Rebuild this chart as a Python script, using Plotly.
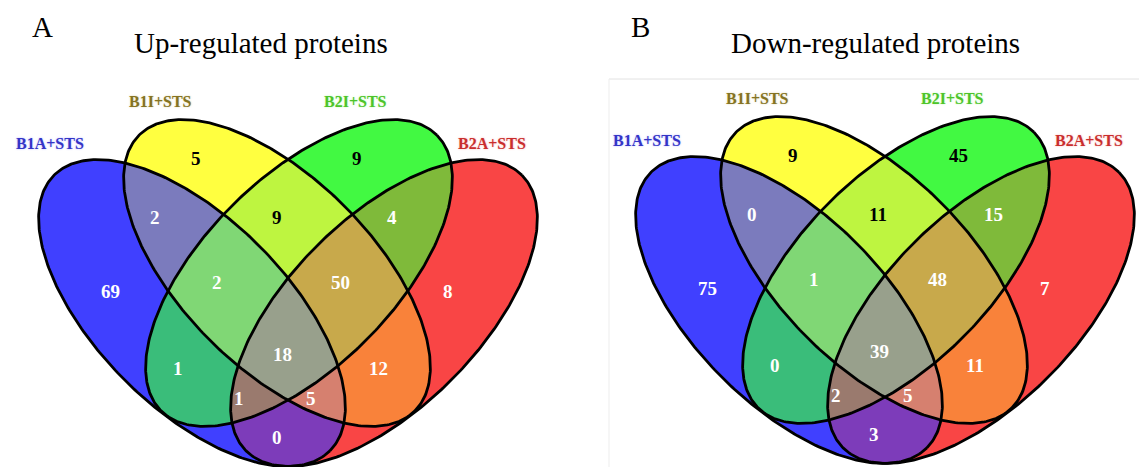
import numpy as np
import plotly.graph_objects as go

# ---- data -------------------------------------------------------------
set_names = ["B1A+STS", "B1I+STS", "B2I+STS", "B2A+STS"]
set_label_colors = ["#3434C6", "#857322", "#4DC42A", "#C92E2E"]
set_label_glow = ["rgba(90,90,255,0.45)", "rgba(170,150,60,0.45)",
                  "rgba(110,230,80,0.45)", "rgba(240,90,90,0.45)"]

# membership keys in the order (B1A, B1I, B2I, B2A)
region_keys = ["1000", "0100", "0010", "0001",
               "1100", "0110", "0011", "1010", "0101", "1001",
               "1110", "0111", "1011", "1101", "1111"]
up_counts = [69, 5, 9, 8, 2, 9, 4, 1, 12, 0, 2, 50, 1, 5, 18]
down_counts = [75, 9, 45, 7, 0, 11, 15, 0, 11, 3, 1, 48, 2, 5, 39]

panel_titles = ["Up-regulated proteins", "Down-regulated proteins"]
panel_letters = ["A", "B"]

# ---- styling ----------------------------------------------------------
region_colors = {
    "1000": "#4040FF", "0100": "#FFFF40", "0010": "#42F942", "0001": "#F94545",
    "1100": "#7B7BBD", "0110": "#BEF540", "0011": "#7FBA3A", "1010": "#3ABD7A",
    "0101": "#F9823A", "1001": "#7D3CBA", "1110": "#80D775", "0111": "#C8A94B",
    "1011": "#9A7A6E", "1101": "#D6806F", "1111": "#98A08C",
}
dark_text = {"0100", "0010", "0110"}

SERIF = "Liberation Serif, Times New Roman, serif"
W, H = 1139, 467

# ellipse geometry relative to each panel's centre (pixel units, y down)
SEMI_MAJOR, SEMI_MINOR = 195.0, 95.0
ellipse_layout = [(-96, 40, 45), (-11, 0, 45), (11, 0, -45), (96, 40, -45)]
panel_origins = [(288, 273), (885, 270)]

# text placement relative to panel centre
label_offsets = [(-238, -130), (-128, -172), (67, -172), (204, -130)]
count_offsets = {
    "1000": (-188.5, 18.5), "0100": (-98.5, -115), "0010": (62.5, -115),
    "0001": (153.5, 18.5), "1100": (-139.5, -56), "0110": (-17, -56),
    "0011": (98, -56), "1110": (-77, 9), "0111": (42, 9), "1010": (-116, 95),
    "1111": (-16.5, 81), "0101": (79.5, 95), "1011": (-55.5, 125.5),
    "1101": (16.5, 125.5), "1001": (-17, 164.5),
}
title_pos = [(261, 43), (875, 43)]
letter_pos = [(42, 27), (640, 27)]


def ellipse_pts(cx, cy, ang, n=360):
    t = np.linspace(0, 2 * np.pi, n, endpoint=False)
    c, s = np.cos(np.radians(ang)), np.sin(np.radians(ang))
    ex, ey = SEMI_MAJOR * np.cos(t), SEMI_MINOR * np.sin(t)
    return np.column_stack([cx + ex * c - ey * s, cy + ex * s + ey * c])


def signed_area(p):
    x, y = p[:, 0], p[:, 1]
    return 0.5 * np.sum(x * np.roll(y, -1) - np.roll(x, -1) * y)


def clip_convex(subject, clipper):
    """Sutherland-Hodgman clipping of a polygon against a convex polygon."""
    if signed_area(clipper) < 0:
        clipper = clipper[::-1]
    out = [tuple(p) for p in subject]
    n = len(clipper)
    for i in range(n):
        ax, ay = clipper[i - 1]
        bx, by = clipper[i]
        dx, dy = bx - ax, by - ay
        inp, out = out, []
        if not inp:
            break
        sp = inp[-1]
        ss = dx * (sp[1] - ay) - dy * (sp[0] - ax)
        for ep in inp:
            es = dx * (ep[1] - ay) - dy * (ep[0] - ax)
            if es >= 0:
                if ss < 0:
                    t = ss / (ss - es)
                    out.append((sp[0] + t * (ep[0] - sp[0]), sp[1] + t * (ep[1] - sp[1])))
                out.append(ep)
            elif ss >= 0:
                t = ss / (ss - es)
                out.append((sp[0] + t * (ep[0] - sp[0]), sp[1] + t * (ep[1] - sp[1])))
            sp, ss = ep, es
    return np.array(out)


ellipses = [ellipse_pts(dx, dy, ang) for dx, dy, ang in ellipse_layout]

# intersection of every subset of ellipses; painting them from the smallest
# subset to the largest leaves each point with the colour of its exact region
paint_order = sorted(region_keys, key=lambda k: k.count("1"))
subset_polys = {}
for key in paint_order:
    idx = [i for i, ch in enumerate(key) if ch == "1"]
    poly = ellipses[idx[0]]
    for j in idx[1:]:
        poly = clip_convex(poly, ellipses[j])
    subset_polys[key] = poly

fig = go.Figure()
annotations = []

for p, (ox, oy) in enumerate(panel_origins):
    counts = dict(zip(region_keys, up_counts if p == 0 else down_counts))

    for key in paint_order:
        poly = subset_polys[key]
        fig.add_trace(go.Scatter(
            x=np.append(poly[:, 0], poly[0, 0]) + ox,
            y=np.append(poly[:, 1], poly[0, 1]) + oy,
            mode="lines", fill="toself", fillcolor=region_colors[key],
            line=dict(width=0, color=region_colors[key]),
            hoverinfo="skip", showlegend=False))

    for e in ellipses:
        fig.add_trace(go.Scatter(
            x=np.append(e[:, 0], e[0, 0]) + ox,
            y=np.append(e[:, 1], e[0, 1]) + oy,
            mode="lines", line=dict(color="black", width=2.8),
            hoverinfo="skip", showlegend=False))

    for key in region_keys:
        lx, ly = count_offsets[key]
        annotations.append(dict(
            x=ox + lx, y=oy + ly, xref="x", yref="y",
            text="<b>%d</b>" % counts[key], showarrow=False,
            xanchor="left", yanchor="middle", borderpad=0,
            font=dict(family=SERIF, size=19,
                      color="black" if key in dark_text else "white")))

    for name, col, glow, (lx, ly) in zip(set_names, set_label_colors,
                                         set_label_glow, label_offsets):
        annotations.append(dict(
            x=ox + lx, y=oy + ly, xref="x", yref="y",
            text="<b>%s</b>" % name, showarrow=False,
            xanchor="center", yanchor="middle",
            font=dict(family=SERIF, size=16, color=col,
                      shadow="0px 0px 2px %s" % glow)))

    tx, ty = title_pos[p]
    annotations.append(dict(
        x=tx, y=ty, xref="x", yref="y", text=panel_titles[p], showarrow=False,
        xanchor="center", yanchor="middle",
        font=dict(family=SERIF, size=29, color="black")))
    lx, ly = letter_pos[p]
    annotations.append(dict(
        x=lx, y=ly, xref="x", yref="y", text=panel_letters[p], showarrow=False,
        xanchor="center", yanchor="middle",
        font=dict(family=SERIF, size=29, color="black")))

# thin frame around the second diagram
shapes = [
    dict(type="line", xref="x", yref="y", x0=609, y0=79, x1=W, y1=79,
         line=dict(color="#E2E2E2", width=1)),
    dict(type="line", xref="x", yref="y", x0=609, y0=79, x1=609, y1=H,
         line=dict(color="#EDEDED", width=1)),
]

fig.update_layout(
    width=W, height=H, margin=dict(l=0, r=0, t=0, b=0),
    paper_bgcolor="white", plot_bgcolor="white",
    xaxis=dict(range=[0, W], visible=False, fixedrange=True),
    yaxis=dict(range=[H, 0], visible=False, fixedrange=True),
    annotations=annotations, shapes=shapes, showlegend=False,
)

fig.write_html("out.html")
